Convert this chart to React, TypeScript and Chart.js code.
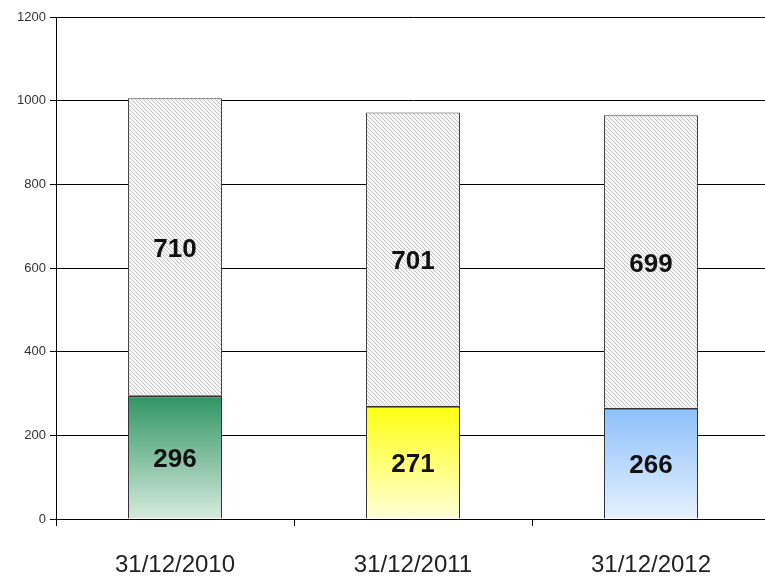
import React, { useEffect, useRef } from "react";
import { Chart, registerables } from "chart.js";

Chart.register(...registerables);

const categories = ["31/12/2010", "31/12/2011", "31/12/2012"];
const bottomValues = [296, 271, 266];
const topValues = [710, 701, 699];
const yTicks = [0, 200, 400, 600, 800, 1000, 1200];

const gradientStops: [string, string][] = [
  ["#2f9462", "#d6ebde"],
  ["#ffff10", "#ffffd8"],
  ["#8cc0fa", "#e6f1ff"],
];

function makeHatch(): CanvasPattern | string {
  const c = document.createElement("canvas");
  c.width = 4;
  c.height = 4;
  const g = c.getContext("2d");
  if (!g) return "#ddd";
  g.fillStyle = "#f7f7f7";
  g.fillRect(0, 0, 4, 4);
  g.strokeStyle = "#c2c2c2";
  g.lineWidth = 1;
  g.beginPath();
  g.moveTo(-1, -1);
  g.lineTo(5, 5);
  g.moveTo(-1, 3);
  g.lineTo(1, 5);
  g.moveTo(3, -1);
  g.lineTo(5, 1);
  g.stroke();
  const p = g.createPattern(c, "repeat");
  return p || "#ddd";
}

const labelPlugin = {
  id: "segLabels",
  afterDatasetsDraw(chart: any) {
    const ctx = chart.ctx;
    ctx.save();
    ctx.font = "bold 26px 'Liberation Sans', Arial, sans-serif";
    ctx.fillStyle = "#111";
    ctx.textAlign = "center";
    ctx.textBaseline = "middle";
    chart.data.datasets.forEach((ds: any, di: number) => {
      const meta = chart.getDatasetMeta(di);
      meta.data.forEach((el: any, i: number) => {
        const cy = (el.y + el.base) / 2 + 3;
        ctx.fillText(String(ds.data[i]), el.x, cy);
      });
    });
    ctx.restore();
  },
};

export default function App() {
  const ref = useRef<HTMLCanvasElement>(null);
  useEffect(() => {
    if (!ref.current) return;
    const hatch = makeHatch();
    const chart = new Chart(ref.current, {
      type: "bar",
      data: {
        labels: categories,
        datasets: [
          {
            data: bottomValues,
            backgroundColor: (c: any) => {
              const y = c.chart.scales?.y;
              const stops = gradientStops[c.dataIndex] || gradientStops[0];
              if (!y || c.raw == null) return stops[0];
              const top = y.getPixelForValue(c.raw);
              const bot = y.getPixelForValue(0);
              if (!isFinite(top) || !isFinite(bot) || top === bot) return stops[0];
              const g = c.chart.ctx.createLinearGradient(0, top, 0, bot);
              g.addColorStop(0, stops[0]);
              g.addColorStop(1, stops[1]);
              return g;
            },
            borderColor: "#333",
            borderWidth: { top: 2, left: 1, right: 1, bottom: 0 },
            borderSkipped: false,
            barPercentage: 0.395,
            categoryPercentage: 1,
          },
          {
            data: topValues,
            backgroundColor: hatch as any,
            borderColor: "#444",
            borderWidth: { top: 1, left: 1, right: 1, bottom: 0 },
            borderSkipped: false,
            barPercentage: 0.395,
            categoryPercentage: 1,
          },
        ],
      },
      options: {
        responsive: false,
        animation: false,
        maintainAspectRatio: false,
        layout: { padding: { top: 17, right: 20, left: 0, bottom: 0 } },
        plugins: { legend: { display: false }, tooltip: { enabled: false } },
        scales: {
          x: {
            stacked: true,
            grid: {
              offset: true,
              drawOnChartArea: false,
              drawTicks: true,
              tickLength: 7,
              color: "#000",
            },
            border: { display: true, color: "#000", width: 1 },
            ticks: {
              color: "#222",
              padding: 25,
              font: { family: "'Liberation Sans', Arial, sans-serif", size: 24 },
            },
            afterFit: (s: any) => {
              s.height = 57;
            },
          },
          y: {
            stacked: true,
            min: 0,
            max: 1200,
            afterBuildTicks: (s: any) => {
              s.ticks = yTicks.map((v) => ({ value: v }));
            },
            grid: { color: "#000", tickLength: 6, lineWidth: 1 },
            border: { display: true, color: "#000", width: 1 },
            ticks: {
              color: "#333",
              padding: 4,
              font: { family: "'Liberation Sans', Arial, sans-serif", size: 13 },
              callback: (v: any) => String(v),
            },
            afterFit: (s: any) => {
              s.width = 56;
            },
          },
        },
      },
      plugins: [labelPlugin],
    });
    return () => chart.destroy();
  }, []);
  return (
    <div style={{ position: "fixed", left: 0, top: 0, width: 765, height: 576, overflow: "hidden", background: "#fff" }}>
      <canvas ref={ref} width={790} height={576} style={{ width: 790, height: 576, display: "block" }} />
    </div>
  );
}
